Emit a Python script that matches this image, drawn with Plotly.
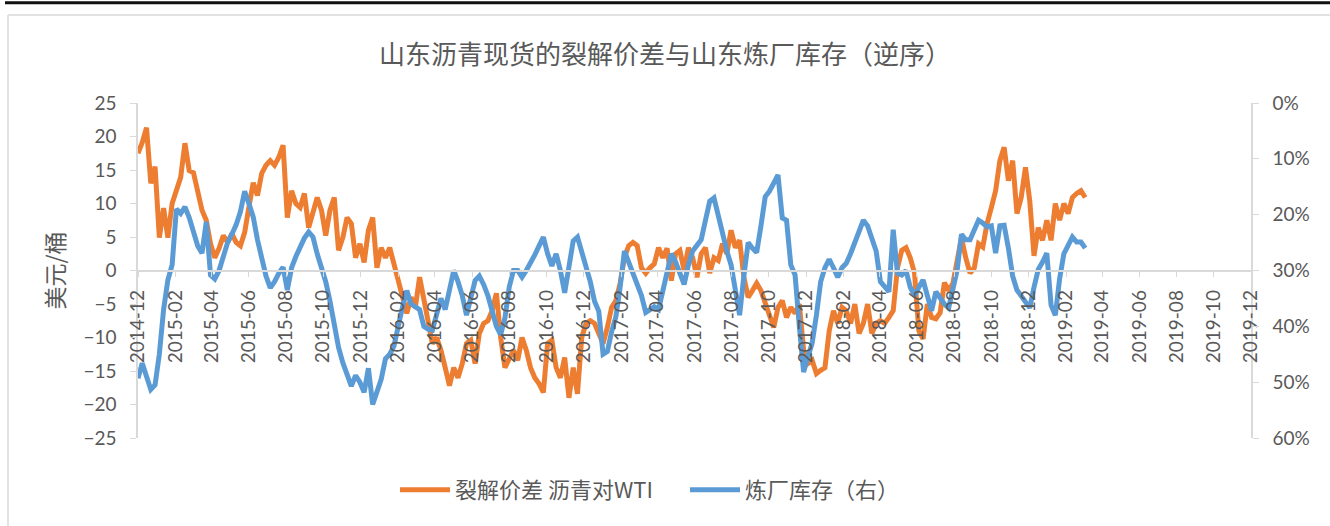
import plotly.graph_objects as go
import pandas as pd

# weekly observations starting 2014-12-01
start_date = "2014-12-01"

# 裂解价差 沥青对WTI (美元/桶)
spread = [
    17.5, 19.1, 21.3, 13.0, 15.5, 4.9, 9.3, 4.9, 10.0, 12.2,
    13.9, 19.0, 14.9, 14.6, 11.9, 9.0, 7.5, 4.0, 1.9, 3.3,
    5.2, 4.2, 5.5, 4.2, 3.7, 5.7, 9.5, 13.1, 11.2, 14.5,
    15.7, 16.4, 15.7, 16.9, 18.7, 7.9, 11.9, 10.0, 9.4, 11.5,
    6.4, 9.0, 10.9, 9.0, 5.2, 9.0, 10.9, 3.0, 4.9, 7.9,
    7.0, 1.9, 4.0, 1.2, 6.0, 7.9, 0.4, 3.4, 1.9, 3.4,
    1.0, -1.9, -4.0, -6.4, -4.0, -5.5, -1.0, -4.5, -7.0, -10.9,
    -10.0, -11.9, -14.5, -17.2, -14.5, -16.0, -13.9, -10.9, -10.4, -13.9,
    -9.4, -7.9, -7.5, -6.0, -3.4, -10.0, -14.5, -13.0, -11.9, -13.4,
    -10.0, -11.9, -14.5, -16.0, -16.9, -18.2, -10.9, -10.4, -14.5, -16.0,
    -13.0, -19.0, -14.5, -18.4, -10.0, -7.9, -7.5, -7.9, -9.4, -10.9,
    -8.5, -5.5, -4.5, -1.9, 1.9, 3.7, 4.2, 3.7, 0.4, -0.4,
    0.4, 1.0, 3.4, 1.9, 3.3, -1.5, 2.5, 3.0, 0.0, 3.4,
    1.9, -1.0, 2.5, 3.4, -0.4, 1.9, 1.5, 4.0, 2.5, 6.0,
    3.4, 4.5, -1.0, -4.0, -3.0, -1.9, -3.0, -5.0, -6.4, -8.5,
    -5.5, -4.5, -7.0, -5.5, -6.4, -5.0, -11.9, -13.9, -13.4, -15.4,
    -14.9, -14.5, -9.0, -6.0, -7.9, -5.5, -6.0, -7.9, -5.0, -9.4,
    -7.9, -5.0, -9.4, -7.9, -7.5, -7.9, -7.0, -6.0, 0.4, 3.0,
    3.4, 1.9, -0.4, -9.0, -10.2, -5.0, -7.0, -7.2, -6.3, -1.8,
    -3.0, -1.9, 1.5, 4.9, 1.9, -0.4, 0.4, 4.0, 3.5, 7.0,
    9.4, 11.9, 16.4, 18.4, 13.4, 16.4, 8.5, 10.9, 15.4, 10.4,
    2.2, 6.4, 4.5, 7.5, 4.5, 10.0, 7.5, 10.0, 8.5, 10.9,
    11.5, 11.9, 10.9,
]

# 炼厂库存 (%), plotted on reversed right axis
inventory = [
    49.3, 46.6, 49.0, 51.3, 50.5, 45.0, 37.0, 31.7, 29.0, 19.0,
    19.8, 18.6, 20.5, 23.0, 25.6, 26.9, 21.3, 30.8, 31.5, 30.0,
    27.5, 25.0, 23.5, 21.8, 19.5, 15.8, 18.0, 20.4, 24.5, 28.0,
    31.0, 33.1, 32.0, 30.5, 29.4, 33.5, 29.5, 27.5, 25.8, 24.2,
    23.1, 24.0, 27.0, 29.5, 32.0, 35.5, 40.0, 43.8, 46.5, 48.5,
    50.7, 48.8, 50.0, 51.8, 47.5, 54.0, 52.0, 49.5, 45.8, 45.0,
    43.5, 39.4, 36.5, 33.6, 36.0, 36.5, 37.0, 40.0, 40.5, 40.7,
    37.5, 35.0, 37.0, 33.5, 30.0, 32.0, 34.5, 38.0, 35.0, 31.8,
    31.0, 32.5, 34.5, 37.0, 40.0, 41.5, 38.5, 33.0, 30.0, 30.0,
    31.2, 30.0, 28.7, 27.2, 25.6, 24.0, 27.0, 29.2, 27.0, 30.0,
    34.0, 29.0, 24.7, 24.0, 26.5, 29.0, 32.0, 35.5, 37.3, 45.0,
    44.5, 41.0, 38.3, 33.0, 26.5, 28.5, 30.5, 32.5, 34.5, 37.5,
    37.0, 36.5, 37.0, 33.5, 30.0, 27.0, 28.5, 30.8, 32.5, 29.0,
    26.5, 25.5, 24.5, 21.0, 17.6, 17.0, 20.5, 23.5, 26.5, 29.0,
    33.5, 38.0, 31.0, 25.0, 26.0, 26.8, 22.0, 16.8, 15.8, 14.5,
    12.9, 20.6, 21.0, 29.0, 30.8, 40.0, 48.2, 45.5, 43.0, 38.0,
    32.0, 29.5, 28.0, 29.5, 31.2, 29.5, 28.7, 27.0, 25.0, 23.0,
    21.0, 22.0, 24.5, 26.5, 32.0, 33.0, 33.8, 22.7, 30.5, 30.8,
    30.0, 33.0, 34.5, 33.0, 31.7, 34.5, 37.2, 33.8, 35.0, 36.0,
    36.7, 33.0, 29.9, 23.5, 24.5, 24.5, 22.5, 21.0, 21.5, 22.2,
    22.0, 26.9, 22.0, 21.9, 26.0, 31.0, 33.5, 34.5, 35.5, 36.7,
    33.0, 29.8, 28.5, 26.9, 36.2, 38.0, 31.5, 27.0, 25.5, 24.0,
    24.9, 24.9, 26.0,
]

dates = pd.date_range(start_date, periods=len(spread), freq="7D")

left_ticks = [-25, -20, -15, -10, -5, 0, 5, 10, 15, 20, 25]
right_ticks = [0, 10, 20, 30, 40, 50, 60]
right_labels = ["0%", "10%", "20%", "30%", "40%", "50%", "60%"]

ORANGE = "#ED7D31"
BLUE = "#5B9BD5"
GRAY_TEXT = "#595959"
AXIS_GRAY = "#D9D9D9"
TICK_FONT = dict(family="Lato, 'Noto Sans CJK SC'", size=19, color=GRAY_TEXT)
CJK = "'Noto Sans CJK SC', 'Noto Sans'"

fig = go.Figure()

fig.add_trace(go.Scatter(
    x=dates, y=spread, mode="lines", name="裂解价差 沥青对WTI",
    line=dict(color=ORANGE, width=5),
))
fig.add_trace(go.Scatter(
    x=dates, y=inventory, mode="lines", name="炼厂库存（右）",
    line=dict(color=BLUE, width=5), yaxis="y2",
))

# chart frame + top rule (paper coords relative to plot area)
fig.add_shape(type="line", xref="paper", yref="paper",
              x0=-0.1195, x1=1.08, y0=1.299, y1=1.299,
              line=dict(color="#111111", width=3))
fig.add_shape(type="line", xref="paper", yref="paper",
              x0=-0.1168, x1=1.08, y0=1.2627, y1=1.2627,
              line=dict(color=AXIS_GRAY, width=1.5))
fig.add_shape(type="line", xref="paper", yref="paper",
              x0=-0.1168, x1=-0.1168, y0=1.2627, y1=-0.27,
              line=dict(color=AXIS_GRAY, width=1.5))

fig.update_layout(
    width=1330, height=526,
    margin=dict(l=138, r=79, t=103, b=88),
    paper_bgcolor="white", plot_bgcolor="white",
    title=dict(
        text="山东沥青现货的裂解价差与山东炼厂库存（逆序）",
        x=0.5, xanchor="center", y=1 - 55 / 526, yanchor="middle",
        font=dict(family=CJK, size=26, color=GRAY_TEXT),
    ),
    xaxis=dict(
        type="date",
        range=["2014-12-01", "2019-12-01"],
        tick0="2014-12-01", dtick="M2", tickformat="%Y-%m",
        tickangle=-90, tickfont=TICK_FONT,
        anchor="free", position=0.5,
        showline=True, linecolor=AXIS_GRAY, linewidth=2,
        ticks="outside", ticklen=5, tickcolor=AXIS_GRAY,
        ticklabelstandoff=6,
        showgrid=False, zeroline=False,
    ),
    yaxis=dict(
        range=[-25, 25], tickvals=left_ticks,
        tickfont=TICK_FONT,
        showline=True, linecolor=AXIS_GRAY, linewidth=1.5,
        ticks="outside", ticklen=6, tickcolor=AXIS_GRAY,
        ticklabelstandoff=10,
        showgrid=False, zeroline=False,
        title=dict(text="美元/桶", standoff=12,
                   font=dict(family=CJK, size=23, color=GRAY_TEXT)),
    ),
    yaxis2=dict(
        overlaying="y", side="right",
        range=[60, 0], tickvals=right_ticks, ticktext=right_labels,
        tickfont=TICK_FONT,
        showline=True, linecolor=AXIS_GRAY, linewidth=1.5,
        ticks="outside", ticklen=6, tickcolor=AXIS_GRAY,
        ticklabelstandoff=10,
        showgrid=False, zeroline=False,
    ),
    legend=dict(
        orientation="h", x=(403 - 138 - 8) / 1113, xanchor="left",
        y=-0.155, yanchor="middle",
        font=dict(family=CJK, size=22, color=GRAY_TEXT),
        itemwidth=50, entrywidth=225, tracegroupgap=0,
    ),
    showlegend=True,
)

fig.write_html("out.html", config={"displayModeBar": False},
               post_script="document.body.style.margin='0';")
